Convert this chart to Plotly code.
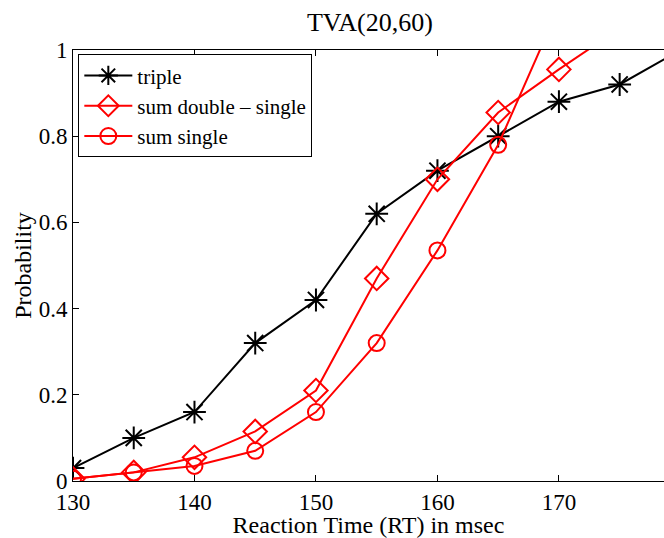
import plotly.graph_objects as go

rt = [130, 135, 140, 145, 150, 155, 160, 165, 170, 175, 180]
triple = [0.03, 0.10, 0.16, 0.32, 0.42, 0.62, 0.72, 0.80, 0.88, 0.92, 1.0]
rt_ds = [130, 135, 140, 145, 150, 155, 160, 165, 170, 175]
sum_double_single = [0.005, 0.02, 0.055, 0.115, 0.21, 0.47, 0.70, 0.855, 0.955, 1.05]
rt_s = [130, 135, 140, 145, 150, 155, 160, 165, 170]
sum_single = [0.005, 0.02, 0.035, 0.07, 0.16, 0.32, 0.535, 0.78, 1.10]

font = "Liberation Serif"
fig = go.Figure()
fig.add_trace(go.Scatter(x=rt, y=triple, name="triple", mode="lines+markers",
                         line=dict(color="black", width=2),
                         marker=dict(symbol="asterisk-open", size=19,
                                     line=dict(color="black", width=2))))
fig.add_trace(go.Scatter(x=rt_ds, y=sum_double_single, name="sum double \u2013 single",
                         mode="lines+markers",
                         line=dict(color="red", width=2),
                         marker=dict(symbol="diamond-open", size=18,
                                     line=dict(color="red", width=2))))
fig.add_trace(go.Scatter(x=rt_s, y=sum_single, name="sum single", mode="lines+markers",
                         line=dict(color="red", width=2),
                         marker=dict(symbol="circle-open", size=16,
                                     line=dict(color="red", width=2))))

fig.update_layout(
    width=664, height=538,
    margin=dict(l=73, r=0, t=50, b=57),
    paper_bgcolor="white", plot_bgcolor="white",
    font=dict(family=font, color="black", size=24),
    title=dict(text="TVA(20,60)", x=0.557, xanchor="center", y=0.959, yanchor="middle",
               font=dict(family=font, size=26)),
    showlegend=True,
    legend=dict(x=0.009, y=0.99, xanchor="left", yanchor="top",
                bordercolor="black", borderwidth=1, bgcolor="white",
                font=dict(family=font, size=21), tracegroupgap=0,
                itemwidth=48),
)
fig.update_xaxes(range=[130, 178.65], tickvals=[130, 140, 150, 160, 170, 180],
                 ticks="inside", ticklen=6, tickcolor="black",
                 showline=True, linecolor="black", linewidth=1, mirror="ticks",
                 showgrid=False, zeroline=False,
                 tickfont=dict(family=font, size=23),
                 title=dict(text="Reaction Time (RT) in msec", standoff=0,
                            font=dict(family=font, size=24)))
fig.update_yaxes(range=[0, 1], tickvals=[0, 0.2, 0.4, 0.6, 0.8, 1],
                 ticktext=["0", "0.2", "0.4", "0.6", "0.8", "1"],
                 ticks="inside", ticklen=6, tickcolor="black",
                 showline=True, linecolor="black", linewidth=1,
                 showgrid=False, zeroline=False,
                 tickfont=dict(family=font, size=23),
                 title=dict(text="Probability", standoff=0,
                            font=dict(family=font, size=24)))

fig.write_html("out.html")
